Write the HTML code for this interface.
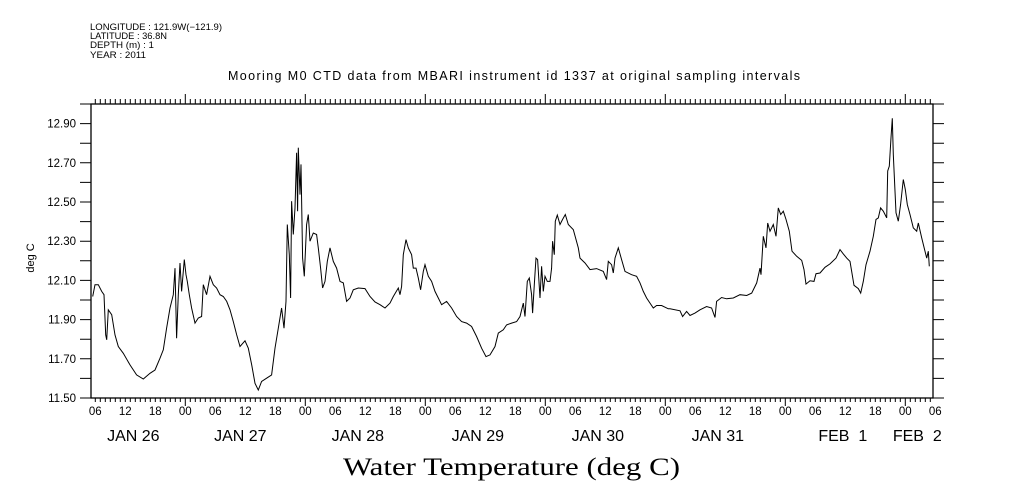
<!DOCTYPE html>
<html><head><meta charset="utf-8"><style>
body{margin:0;background:#fff;}
svg{display:block;font-family:"Liberation Sans",sans-serif;}
</style></head><body>
<svg id="c" width="1009" height="504" xmlns="http://www.w3.org/2000/svg">
<g font-size="9" fill="#000">
<text x="90" y="30" textLength="132" lengthAdjust="spacingAndGlyphs">LONGITUDE : 121.9W(−121.9)</text>
<text x="90" y="39" textLength="77" lengthAdjust="spacingAndGlyphs">LATITUDE : 36.8N</text>
<text x="90" y="48" textLength="64" lengthAdjust="spacingAndGlyphs">DEPTH (m) : 1</text>
<text x="90" y="58" textLength="56" lengthAdjust="spacingAndGlyphs">YEAR : 2011</text>
</g>
<text x="228" y="80" font-size="12.5" textLength="572" lengthAdjust="spacing">Mooring M0 CTD data from MBARI instrument id 1337 at original sampling intervals</text>
<text transform="translate(34,258) rotate(-90)" font-size="11" text-anchor="middle">deg C</text>
<text x="343" y="475" font-family="Liberation Serif,serif" font-size="25" textLength="337" lengthAdjust="spacingAndGlyphs">Water Temperature (deg C)</text>
<g id="axes"></g>
<path id="line" fill="none" stroke="#000" stroke-width="1"/>
</svg>
<script>
const hours=[5.48,5.94,6.6,7.27,7.74,8.07,8.27,8.6,9.27,9.94,10.6,11.6,12.94,14.27,15.6,16.94,17.94,18.94,19.6,20.27,20.94,21.6,21.94,22.27,22.6,22.94,23.27,23.6,23.8,24.14,24.4,24.8,25.27,25.94,26.6,27.27,27.6,28.27,28.94,29.6,30.27,30.94,31.6,32.27,32.94,33.6,34.27,34.94,35.94,36.6,37.27,37.94,38.6,39.27,40.27,41.27,41.94,42.6,43.27,43.74,44.14,44.4,44.8,45.07,45.27,45.6,45.94,46.27,46.47,46.6,46.94,47.14,47.47,47.8,48.27,48.6,48.94,49.6,50.27,50.6,51.07,51.47,51.94,52.4,52.94,53.6,54.27,54.94,55.6,56.27,56.94,57.6,58.6,59.94,60.94,61.94,62.94,63.94,64.94,65.6,66.6,66.94,67.27,67.6,68.14,68.6,69.27,69.6,70.14,70.6,71.07,71.6,71.94,72.6,73.27,73.94,74.6,75.27,76.27,77.27,78.27,79.27,80.27,81.27,82.27,83.27,84.14,84.94,85.94,86.6,87.6,88.27,89.27,90.27,90.94,91.6,91.94,92.4,92.8,93.27,93.47,93.8,94.14,94.47,94.94,95.27,95.6,95.94,96.4,96.94,97.27,97.47,97.8,98.0,98.4,98.94,99.47,100.0,100.6,101.6,102.6,102.94,103.94,104.94,106.27,107.6,108.27,108.6,109.27,109.6,109.94,110.6,111.27,111.94,113.27,114.27,114.94,115.6,116.27,116.94,117.6,118.27,119.27,120.6,120.94,122.94,123.47,124.27,124.94,125.94,126.94,128.27,129.27,129.94,130.27,131.27,132.27,133.6,134.94,136.27,137.27,138.27,138.94,139.14,139.6,140.14,140.47,140.94,141.6,142.14,142.6,143.07,143.6,144.14,144.8,145.34,146.27,147.27,147.74,148.14,148.94,149.74,150.14,150.94,151.94,152.94,154.14,154.94,155.6,156.27,156.94,157.74,158.6,159.07,159.6,160.14,160.94,161.6,162.14,162.6,163.07,163.6,163.94,164.27,164.47,164.8,165.14,165.4,165.6,165.94,166.14,166.6,167.07,167.6,168.0,168.4,168.94,169.6,170.27,170.6,171.27,171.94,172.27,172.6,172.8];
const temps=[12.018,12.078,12.078,12.044,12.027,11.822,11.797,11.95,11.925,11.822,11.763,11.728,11.669,11.618,11.597,11.626,11.643,11.703,11.746,11.856,11.959,12.027,12.163,11.805,12.027,12.189,12.044,12.146,12.206,12.129,12.095,12.027,11.959,11.882,11.908,11.916,12.078,12.027,12.121,12.078,12.061,12.027,12.018,11.993,11.95,11.89,11.822,11.763,11.792,11.754,11.669,11.575,11.541,11.584,11.601,11.618,11.754,11.856,11.959,11.856,11.993,12.385,12.231,12.01,12.504,12.334,12.47,12.751,12.453,12.777,12.538,12.692,12.214,12.121,12.385,12.436,12.3,12.342,12.334,12.266,12.163,12.061,12.095,12.197,12.266,12.197,12.163,12.095,12.087,11.993,12.01,12.052,12.061,12.058,12.018,11.99,11.976,11.959,11.984,12.018,12.061,12.027,12.069,12.231,12.308,12.266,12.231,12.163,12.163,12.112,12.052,12.146,12.18,12.121,12.095,12.044,12.01,11.976,11.993,11.959,11.916,11.89,11.882,11.865,11.814,11.754,11.711,11.72,11.763,11.831,11.848,11.873,11.882,11.89,11.916,11.984,11.916,12.095,12.112,12.027,11.933,12.078,12.214,12.206,12.01,12.172,12.044,12.121,12.095,12.095,12.163,12.3,12.231,12.402,12.433,12.385,12.411,12.436,12.385,12.359,12.266,12.214,12.189,12.155,12.16,12.146,12.104,12.197,12.18,12.138,12.214,12.266,12.206,12.146,12.129,12.121,12.087,12.044,12.01,11.984,11.959,11.972,11.972,11.955,11.955,11.945,11.916,11.942,11.921,11.933,11.95,11.967,11.959,11.911,11.993,12.013,12.006,12.01,12.027,12.023,12.035,12.087,12.163,12.129,12.325,12.266,12.393,12.351,12.385,12.325,12.47,12.436,12.453,12.411,12.351,12.249,12.223,12.202,12.155,12.081,12.098,12.095,12.134,12.138,12.167,12.184,12.214,12.257,12.235,12.214,12.197,12.075,12.058,12.035,12.095,12.18,12.249,12.325,12.411,12.419,12.47,12.453,12.436,12.419,12.658,12.683,12.828,12.927,12.743,12.555,12.445,12.402,12.487,12.615,12.564,12.487,12.436,12.368,12.351,12.393,12.317,12.249,12.214,12.249,12.172];
const yTickLabels=["11.50","11.70","11.90","12.10","12.30","12.50","12.70","12.90"];
const hourLabels=["06","12","18","00"];
const dayLabels=["JAN 26","JAN 27","JAN 28","JAN 29","JAN 30","JAN 31","FEB  1","FEB  2"];
const dayLabelHours=[13.6,35,58.5,82.5,106.5,130.5,155.5,170.4];

const L=91,R=933,T=104,B=398,H0=5.14,H1=173.54,Y0=11.5,Y1=13.0;
const x=h=>L+(h-H0)*(R-L)/(H1-H0);
const y=v=>B-(v-Y0)*(B-T)/(Y1-Y0);
const NS="http://www.w3.org/2000/svg";
const ax=document.getElementById('axes');
function mk(tag,attrs,parent){const e=document.createElementNS(NS,tag);for(const k in attrs)e.setAttribute(k,attrs[k]);(parent||ax).appendChild(e);return e;}
const frame=mk('rect',{x:L,y:T,width:R-L,height:B-T,fill:'none',stroke:'#000','stroke-width':1.3});


let d='';
for(let h=Math.ceil(H0);h<=H1;h++){const xx=x(h).toFixed(1);const maj=h%24===0;d+=`M${xx} ${T}v${maj?-10:-5}M${xx} ${B}v${maj?8:4}`;}
for(let v=11.5;v<=13.001;v+=0.1){const yy=y(v).toFixed(1);d+=`M${L} ${yy}h-11M${R} ${yy}h11`;}
const tk=mk('path',{d:d,stroke:'#000','stroke-width':1,fill:'none'});


yTickLabels.forEach(s=>{const t=mk('text',{x:76,y:y(parseFloat(s))+4,'font-size':11.5,'text-anchor':'end'});t.textContent=s;

});
for(let h=6;h<=H1+1;h+=6){const t=mk('text',{x:x(h),y:415,'font-size':11.5,'text-anchor':'middle'});t.textContent=hourLabels[(h/6-1)%4];

}
dayLabels.forEach((s,i)=>{const t=mk('text',{x:x(dayLabelHours[i]),y:441,'font-size':16,'text-anchor':'middle','xml:space':'preserve'});t.textContent=s;t.style.whiteSpace='pre';

});
document.getElementById('line').setAttribute('d',hours.map((h,i)=>(i?'L':'M')+x(h).toFixed(1)+' '+y(temps[i]).toFixed(1)).join(''));
</script>
</body></html>
